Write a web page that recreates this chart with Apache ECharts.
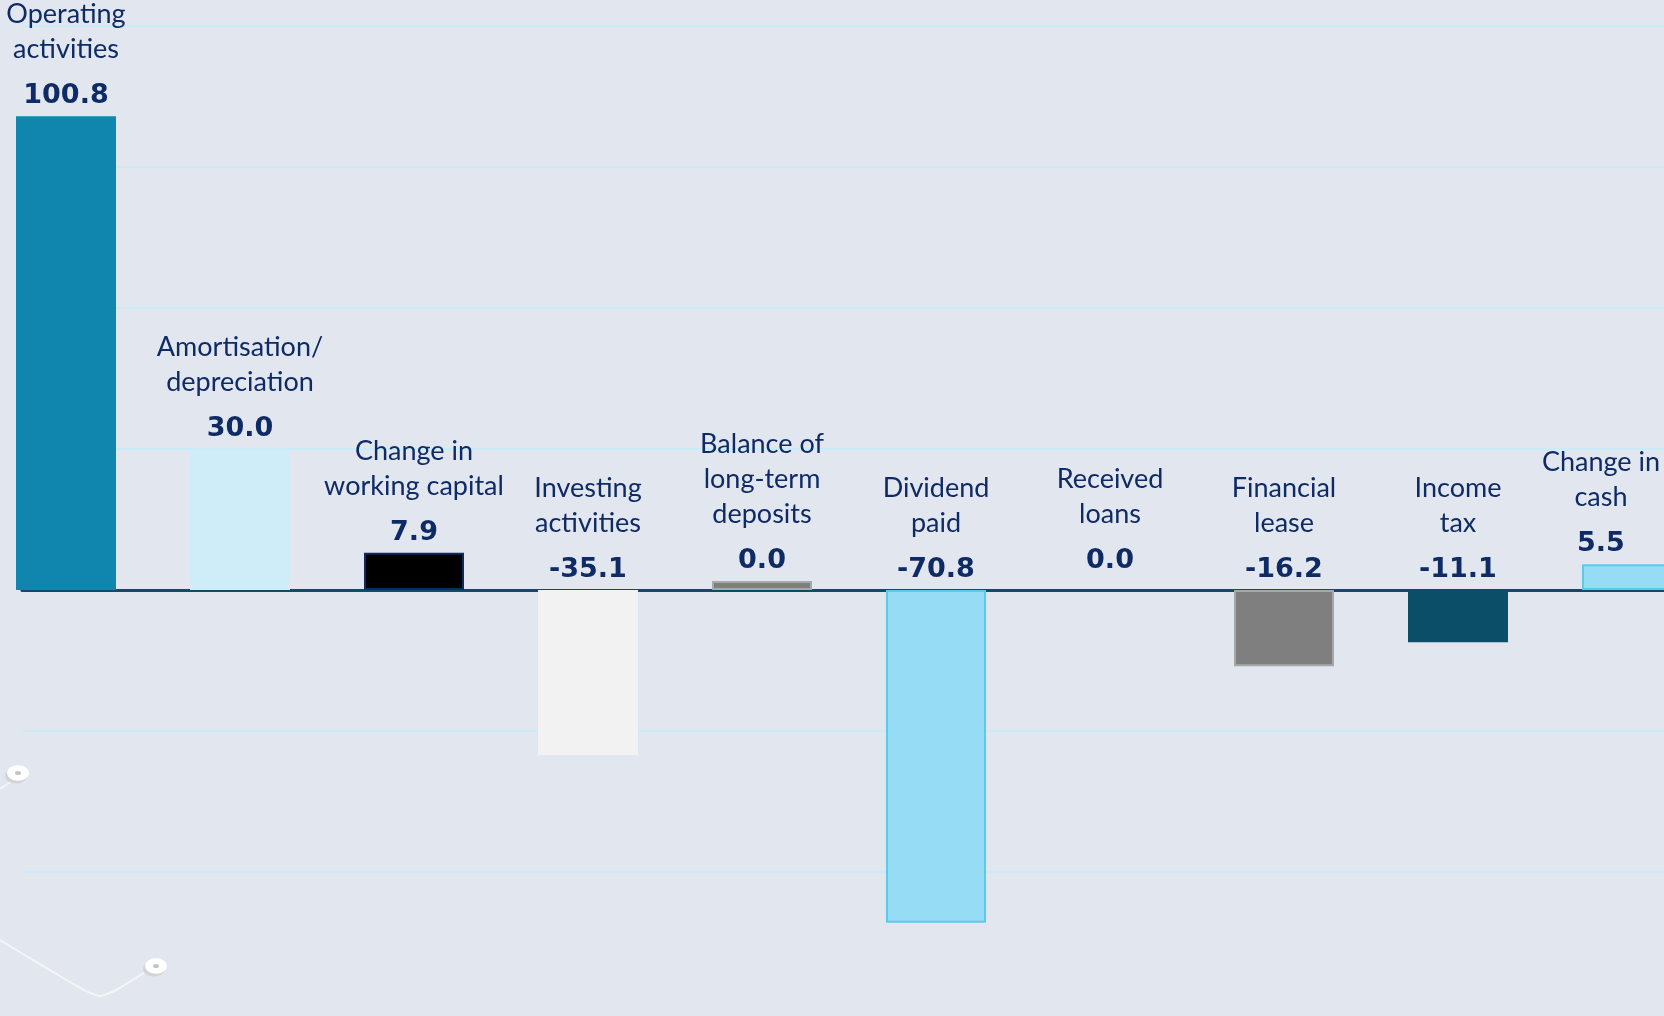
<!DOCTYPE html>
<html>
<head>
<meta charset="utf-8">
<script src="https://cdn.jsdelivr.net/npm/echarts@6/dist/echarts.min.js"></script>
<style>
  html, body { margin: 0; padding: 0; background: #e2e6ee; }
  #chart { width: 1664px; height: 1016px; }
</style>
</head>
<body>
<div id="chart"></div>
<script>
// ---- data ----
const categories = [
  'Operating\nactivities',
  'Amortisation/\ndepreciation',
  'Change in\nworking capital',
  'Investing\nactivities',
  'Balance of\nlong-term\ndeposits',
  'Dividend\npaid',
  'Received\nloans',
  'Financial\nlease',
  'Income\ntax',
  'Change in\ncash'
];
const values = [100.8, 30.0, 7.9, -35.1, 0.0, -70.8, 0.0, -16.2, -11.1, 5.5];
const yTicks = { min: -90, max: 120, step: 30 };

// ---- styles (separate from data) ----
const barFill = ['#1086ae', '#cfedf8', '#000000', '#f2f2f2', '#7f7f7f',
                 '#96dcf5', 'transparent', '#7f7f7f', '#0a4e67', '#96dcf5'];
const barBorder = [null, null, '#0f2a63', null, '#a8a8a8',
                   '#5cc9ef', null, '#a8a8a8', null, '#5cc9ef'];
const navy = '#0f2b65';

const chart = echarts.init(document.getElementById('chart'), null, { renderer: 'canvas' });

const barData = values.map((v, i) => ({
  value: v,
  itemStyle: {
    color: barFill[i],
    borderColor: barBorder[i] || barFill[i],
    borderWidth: barBorder[i] ? 2 : 0
  }
}));

function washer(cx, cy) {
  return {
    type: 'group', silent: true, x: cx, y: cy, scaleY: 0.7,
    children: [
      { type: 'circle', shape: { cx: -2, cy: 4, r: 11 }, style: { fill: '#d3d4d8' } },
      { type: 'circle', shape: { cx: 0, cy: 0, r: 11 }, style: { fill: '#ffffff' } },
      { type: 'circle', shape: { cx: 0, cy: 0, r: 3 }, style: { fill: '#c2c4c9' } }
    ]
  };
}

const option = {
  backgroundColor: '#e2e6ee',
  animation: false,
  grid: [
    { left: -21, width: 1740, top: 26, bottom: 3, outerBoundsMode: 'none', containLabel: false },
    { left: 22, right: 0, top: 26, bottom: 3, outerBoundsMode: 'none', containLabel: false }
  ],
  xAxis: [
    { type: 'category', gridIndex: 0, data: categories, show: false },
    { type: 'category', gridIndex: 1, data: categories,
      axisLine: { show: true, onZero: true, lineStyle: { color: '#0b4e66', width: 3 } },
      axisTick: { show: false }, axisLabel: { show: false } }
  ],
  yAxis: [
    { type: 'value', gridIndex: 0, min: yTicks.min, max: yTicks.max, interval: yTicks.step, show: false },
    { type: 'value', gridIndex: 1, min: yTicks.min, max: yTicks.max, interval: yTicks.step,
      axisLine: { show: false }, axisTick: { show: false }, axisLabel: { show: false },
      splitLine: { show: true, showMinLine: false, lineStyle: { color: '#c9ecf8', width: 2 } } }
  ],
  graphic: [
    { type: 'polyline', silent: true, shape: { points: [[0, 789], [12, 781]] },
      style: { stroke: '#f4f5f7', lineWidth: 2, fill: null } },
    { type: 'polyline', silent: true,
      shape: { points: [[0, 940], [84, 990], [100, 996], [116, 990], [150, 969]], smooth: 0.2 },
      style: { stroke: '#f4f5f7', lineWidth: 2, fill: null } },
    washer(18, 773),
    washer(156, 966)
  ],
  series: [
    {
      type: 'bar',
      xAxisIndex: 0, yAxisIndex: 0,
      data: barData,
      barWidth: 100,
      barMinHeight: 9,
      z: 3,
      label: {
        show: true,
        position: 'top',
        distance: 5,
        formatter: p => '{n|' + categories[p.dataIndex] + '}\n{s| }\n{v|' + Number(p.value).toFixed(1) + '}',
        rich: {
          n: { fontFamily: 'Lato', fontSize: 27, color: navy, lineHeight: 35 },
          s: { fontSize: 2, lineHeight: 14 },
          v: { fontFamily: 'DejaVu Sans', fontWeight: 'bold', fontSize: 27, color: navy, lineHeight: 30 }
        }
      },
      labelLayout: function (p) {
        const r = p.labelRect;
        const W = chart.getWidth();
        let dx = 0;
        if (r.x + r.width > W - 4) dx = W - 4 - (r.x + r.width);
        if (r.x < 4) dx = 4 - r.x;
        return { dx: dx };
      }
    }
  ]
};

chart.setOption(option);
</script>
</body>
</html>
